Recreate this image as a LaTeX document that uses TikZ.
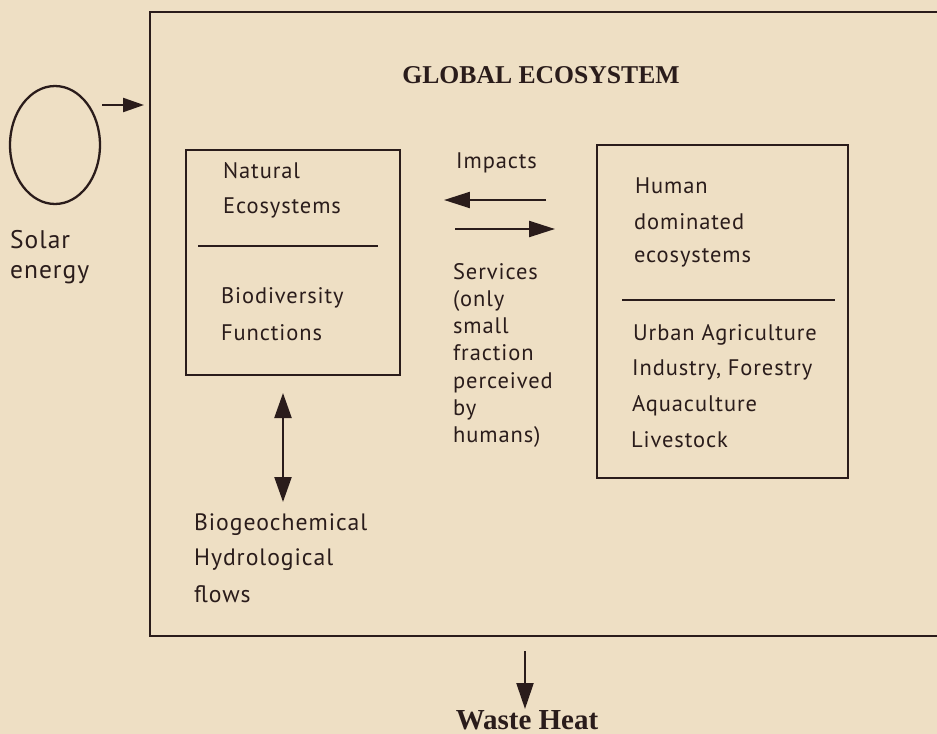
\documentclass[tikz,border=0pt]{standalone}
\usepackage{fontspec}
\setmainfont{Liberation Serif}
\newfontfamily\labelfont[LetterSpace=4]{PT Sans}
\usetikzlibrary{arrows.meta, positioning, shapes.geometric}
\definecolor{paper}{RGB}{238,223,196}
\definecolor{ink}{RGB}{42,28,27}

\begin{document}
\begin{tikzpicture}[x=0.02cm, y=-0.02cm, color=ink, line width=1.3pt,
  >={Triangle[length=0.52cm, width=0.32cm]},
  lbl/.style={font=\labelfont\fontsize{12.8}{14}\selectfont, inner sep=0pt, anchor=west},
  box/.style={draw, line width=1.3pt, inner sep=0pt}]
  \useasboundingbox (0,0) rectangle (937,734);
  \fill[paper] (0,0) rectangle (937,734);
  \clip (0,0) rectangle (937,734);

  % frame and the two ecosystem boxes
  \node (world) [box, minimum width=16.4cm, minimum height=12.48cm] at (560,324) {};
  \node (nat) [box, minimum width=4.28cm, minimum height=4.5cm] at (293,262.5) {};
  \node (hum) [box, minimum width=5.02cm, minimum height=6.66cm] at (722.5,311.5) {};
  \node (sun) [ellipse, draw, minimum width=1.8cm, minimum height=2.36cm] at (55,145) {};

  \node (title) [font=\bfseries\fontsize{14.6}{16}\selectfont, inner sep=0pt] at (541,75) {GLOBAL ECOSYSTEM};

  \node (solar) [lbl, font=\labelfont\fontsize{14.5}{16}\selectfont] at (9,240) {Solar};
  \node (energy) [lbl, font=\labelfont\fontsize{14.5}{16}\selectfont] at (9,275) {energy};

  \node (nat1) [lbl] at (222,171) {Natural};
  \node (nat2) [lbl] at (222,208) {Ecosystems};
  \node (nat3) [lbl] at (220,298) {Biodiversity};
  \node (nat4) [lbl] at (220,333) {Functions};
  \draw (198,246) -- (378,246);

  \node (impacts) [lbl] at (455,163) {Impacts};
  \node (serv) [lbl, align=left, font=\labelfont\fontsize{12.8}{15.5}\selectfont, anchor=north west] at (452,262)
    {Services\\(only\\small\\fraction\\perceived\\by\\humans)};

  \node (hum1) [lbl] at (634,186) {Human};
  \node (hum2) [lbl] at (633,222) {dominated};
  \node (hum3) [lbl] at (633,258) {ecosystems};
  \draw (622,300) -- (835,300);
  \node (hum4) [lbl] at (632,335) {Urban Agriculture};
  \node (hum5) [lbl] at (631,370) {Industry, Forestry};
  \node (hum6) [lbl] at (631,406) {Aquaculture};
  \node (hum7) [lbl] at (630,440) {Livestock};

  \node (bgc1) [lbl, font=\labelfont\fontsize{13.5}{15}\selectfont] at (193,525) {Biogeochemical};
  \node (bgc2) [lbl, font=\labelfont\fontsize{13.5}{15}\selectfont] at (193,560) {Hydrological};
  \node (bgc3) [lbl, font=\labelfont\fontsize{13.5}{15}\selectfont] at (193,594) {flows};

  \node (waste) [font=\bfseries\fontsize{16.5}{18}\selectfont, inner sep=0pt] at (527,720) {Waste Heat};

  % arrows
  \coordinate (sol-a) at (102,105);
  \coordinate (sol-b) at (144,105);
  \coordinate (imp-a) at (546,200);
  \coordinate (imp-b) at (444,200);
  \coordinate (srv-a) at (455,229);
  \coordinate (srv-b) at (555,229);
  \coordinate (flw-a) at (283,393);
  \coordinate (flw-b) at (283,502);
  \coordinate (wst-a) at (525,651);
  \coordinate (wst-b) at (525,709);

  \draw[->, >={Triangle[length=0.42cm, width=0.28cm]}] (sol-a) -- (sol-b);
  \draw[->] (imp-a) -- (imp-b);
  \draw[->] (srv-a) -- (srv-b);
  \draw[<->, >={Triangle[length=0.5cm, width=0.34cm]}] (flw-a) -- (flw-b);
  \draw[->, >={Triangle[length=0.52cm, width=0.34cm]}] (wst-a) -- (wst-b);
\end{tikzpicture}
\end{document}
